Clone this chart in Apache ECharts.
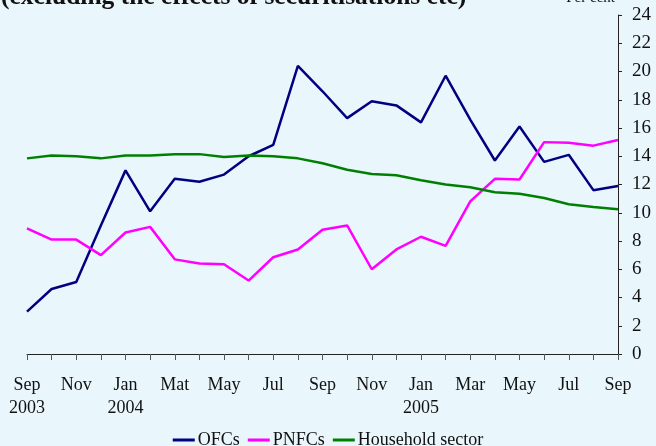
<!DOCTYPE html>
<html><head><meta charset="utf-8">
<script src="https://cdn.jsdelivr.net/npm/echarts@6/dist/echarts.min.js"></script>
<style>html,body{margin:0;padding:0;background:#e9f6fc;}#c{width:656px;height:446px;}</style>
</head><body><div id="c"></div>
<script>
const categories = ['Sep\n2003','Oct','Nov','Dec','Jan\n2004','Feb','Mat','Apr','May','Jun','Jul','Aug','Sep','Oct','Nov','Dec','Jan\n2005','Feb','Mar','Apr','May','Jun','Jul','Aug','Sep'];
const ofcs = [3.0,4.6,5.1,9.1,13.0,10.1,12.4,12.2,12.7,14.0,14.8,20.4,18.6,16.7,17.9,17.6,16.4,19.7,16.6,13.7,16.1,13.6,14.1,11.6,11.9];
const pnfcs = [8.9,8.1,8.1,7.0,8.6,9.0,6.7,6.4,6.35,5.2,6.85,7.4,8.8,9.1,6.0,7.4,8.3,7.65,10.8,12.4,12.35,15.0,14.95,14.75,15.15];
const household = [13.85,14.05,14.0,13.85,14.05,14.05,14.15,14.15,13.95,14.05,14.0,13.85,13.5,13.05,12.75,12.65,12.3,12.0,11.8,11.45,11.35,11.05,10.6,10.4,10.25];
const yTicks = {min:0, max:24, interval:2};
const titleText = '(excluding the effects of securitisations etc)';
const unitText = 'Per cent';
const seriesNames = ['OFCs','PNFCs','Household sector'];

const chart = echarts.init(document.getElementById('c'));
const serif = '"Liberation Serif","Times New Roman",serif';
const colors = ['#000080','#ff00ff','#008000'];
chart.setOption({
  backgroundColor:'#e9f6fc',
  animation:false,
  grid:{left:27,right:38,top:15,bottom:92,containLabel:false},
  graphic:[
    {type:'text',left:1,top:-16,style:{text:titleText,font:'bold 25.5px '+serif,fill:'#111'}},
    {type:'text',right:41,top:-9,style:{text:unitText,font:'15px '+serif,fill:'#111'}}
  ],
  legend:{
    bottom:-8,left:'center',icon:'rect',itemWidth:22,itemHeight:3,itemGap:8,
    textStyle:{fontFamily:serif,fontSize:18,color:'#111',padding:[0,0,0,-2]},
    data:seriesNames
  },
  xAxis:{
    type:'category',data:categories,boundaryGap:false,
    axisLine:{lineStyle:{color:'#222',width:1}},
    axisTick:{show:true,interval:0,length:6,lineStyle:{color:'#555'}},
    axisLabel:{interval:1,fontFamily:serif,fontSize:18,color:'#111',lineHeight:23,margin:20},
    splitLine:{show:false}
  },
  yAxis:{
    type:'value',position:'right',min:yTicks.min,max:yTicks.max,interval:yTicks.interval,
    axisLine:{show:true,lineStyle:{color:'#222',width:1}},
    axisTick:{show:true,length:4,lineStyle:{color:'#222'}},
    axisLabel:{fontFamily:serif,fontSize:19,color:'#111',margin:14},
    splitLine:{show:false}
  },
  series:[
    {name:seriesNames[0],type:'line',data:ofcs,symbol:'none',lineStyle:{width:2.5,color:colors[0]},itemStyle:{color:colors[0]}},
    {name:seriesNames[1],type:'line',data:pnfcs,symbol:'none',lineStyle:{width:2.5,color:colors[1]},itemStyle:{color:colors[1]}},
    {name:seriesNames[2],type:'line',data:household,symbol:'none',lineStyle:{width:2.5,color:colors[2]},itemStyle:{color:colors[2]}}
  ]
});
</script></body></html>
